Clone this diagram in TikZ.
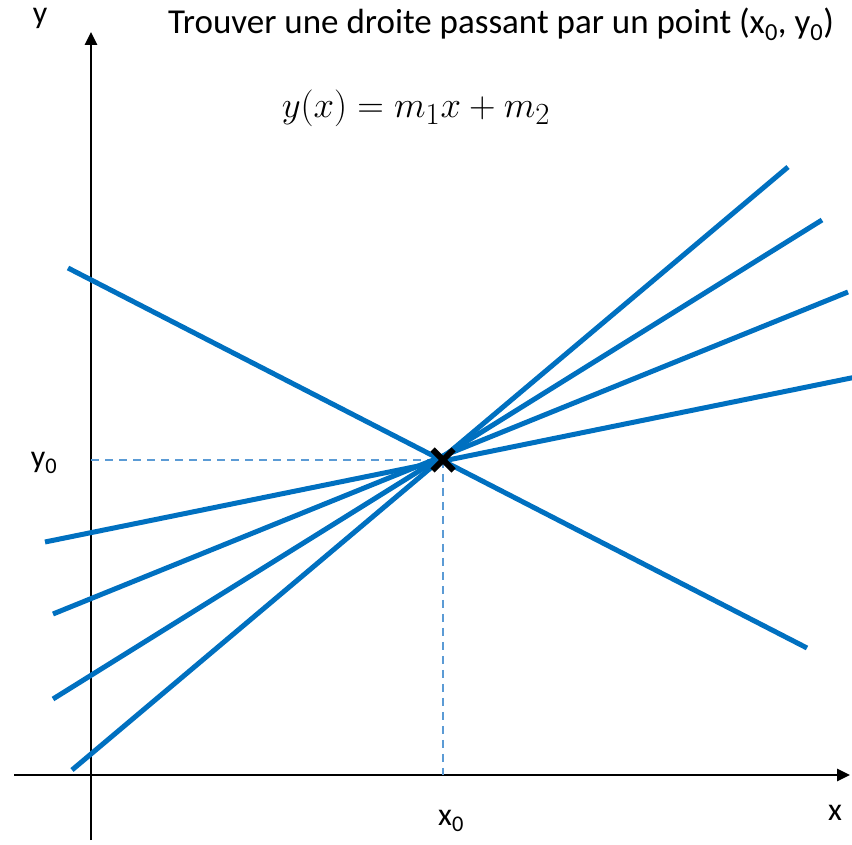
\documentclass[tikz,border=0pt]{standalone}
\usepackage{fontspec}
\setmainfont{Carlito}
\usepackage{tikz}
\usetikzlibrary{positioning, calc, arrows.meta, shapes.misc}
\definecolor{lineBlue}{RGB}{0, 112, 192}
\definecolor{dashBlue}{RGB}{91, 155, 213}
\tikzset{
  axisline/.style={draw=black, line width=2.6pt},
  droite/.style={draw=lineBlue, line width=5pt},
  guide/.style={draw=dashBlue, line width=2pt, dash pattern=on 8pt off 6pt},
  axlabel/.style={font=\fontsize{32}{36}\selectfont, inner sep=0pt},
}

\begin{document}
\begin{tikzpicture}[
    x=1pt, y=1pt,
    arrow/.style={-{Triangle[length=13pt, width=12pt]}},
  ]
    \useasboundingbox (0,0) rectangle (852,844);

    % axes
    \coordinate (xa) at (14,69);
    \coordinate (xb) at (850,69);
    \coordinate (ya) at (91,4);
    \coordinate (yb) at (91,812);
    \draw[axisline, arrow] (xa) -- (xb);
    \draw[axisline, arrow] (ya) -- (yb);

    \node[axlabel] (ylab)  at (40,826) {y};
    \node[axlabel] (xlab)  at (835,31) {x};

    % point (x0,y0)
    \coordinate (P)  at (443,384);
    \coordinate (Px) at (443,69);
    \coordinate (Py) at (91,384);
    \draw[guide] (Py) -- (P);
    \draw[guide] (P) -- (Px);

    \node[axlabel] (x0lab) at (451,23)  {x\textsubscript{0}};
    \node[axlabel] (y0lab) at (44,381)  {y\textsubscript{0}};

    % droites passant par le point
    \coordinate (L1a) at (68,576);   \coordinate (L1b) at (807,196);
    \coordinate (L2a) at (72,74);    \coordinate (L2b) at (788,677);
    \coordinate (L3a) at (53,145);   \coordinate (L3b) at (822,624);
    \coordinate (L4a) at (53,230);   \coordinate (L4b) at (848,552);
    \coordinate (L5a) at (45,302);   \coordinate (L5b) at (856,467);
    \foreach \i in {1,...,5}
      \draw[droite] (L\i a) -- (L\i b);

    \node[cross out, draw=black, line width=6pt, minimum size=15pt,
          inner sep=0pt] (X) at (P) {};

    % titre et equation
    \node[font=\fontsize{35}{40}\selectfont, inner sep=0pt] (titre) at (501,820)
         {Trouver une droite passant par un point (x\textsubscript{0}, y\textsubscript{0})};
    \node[font=\fontsize{24.88}{30}\selectfont, inner sep=0pt,
          scale=1.48, transform shape] (eq) at (416,736)
         {$y(x) = m_1 x + m_2$};
  \end{tikzpicture}
\end{document}
